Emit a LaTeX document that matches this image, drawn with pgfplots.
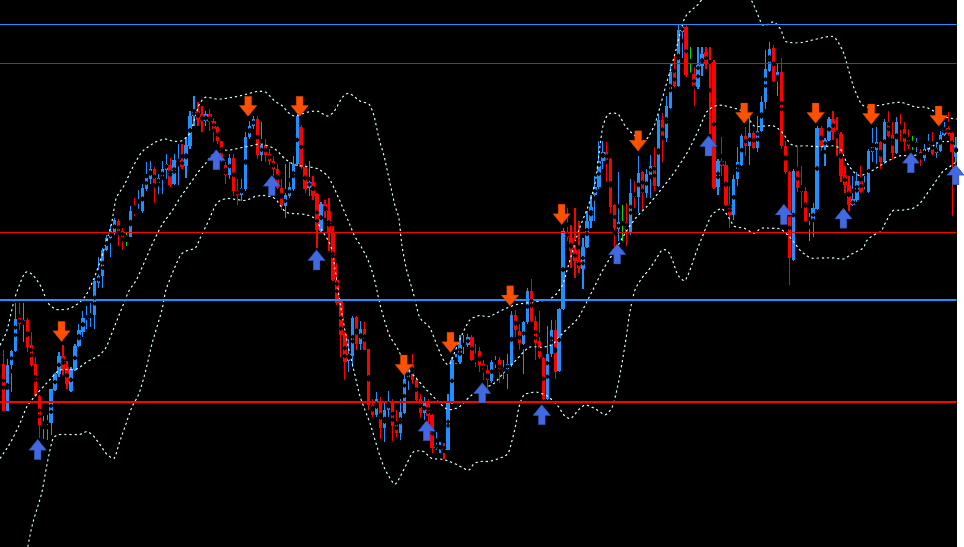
\documentclass[border=0pt]{standalone}
\usepackage{pgfplots}
\usepackage{pgfplotstable}
\pgfplotsset{compat=1.18}
\definecolor{cup}{RGB}{30,144,255}
\definecolor{cdn}{RGB}{255,0,0}
\definecolor{cdoji}{RGB}{0,220,0}
\definecolor{band}{RGB}{200,250,250}
\definecolor{arrdn}{RGB}{255,80,0}
\definecolor{arrup}{RGB}{65,105,225}

\pgfdeclareplotmark{uparr}{%
 \pgfpathmoveto{\pgfqpoint{0bp}{10bp}}%
 \pgfpathlineto{\pgfqpoint{8.5bp}{-0.5bp}}%
 \pgfpathlineto{\pgfqpoint{3.3bp}{-0.5bp}}%
 \pgfpathlineto{\pgfqpoint{3.3bp}{-10bp}}%
 \pgfpathlineto{\pgfqpoint{-3.3bp}{-10bp}}%
 \pgfpathlineto{\pgfqpoint{-3.3bp}{-0.5bp}}%
 \pgfpathlineto{\pgfqpoint{-8.5bp}{-0.5bp}}%
 \pgfpathclose
 \pgfusepathqfillstroke}
\pgfdeclareplotmark{dnarr}{%
 \pgfpathmoveto{\pgfqpoint{0bp}{-10bp}}%
 \pgfpathlineto{\pgfqpoint{8.5bp}{0.5bp}}%
 \pgfpathlineto{\pgfqpoint{3.3bp}{0.5bp}}%
 \pgfpathlineto{\pgfqpoint{3.3bp}{10bp}}%
 \pgfpathlineto{\pgfqpoint{-3.3bp}{10bp}}%
 \pgfpathlineto{\pgfqpoint{-3.3bp}{0.5bp}}%
 \pgfpathlineto{\pgfqpoint{-8.5bp}{0.5bp}}%
 \pgfpathclose
 \pgfusepathqfillstroke}

\pgfplotstableread{
i t o c h l
0 -1 367 414 353 414
1 1 414 368 362 414
2 1 368 354 353 395
3 1 354 321 305 355
4 -1 320 327 305 333
5 1 327 322 305 345
6 -1 322 350 320 355
7 -1 348 368 335 370
8 -1 367 399 360 400
9 -1 399 428 398 441
10 1 427 426 419 442
11 1 426 425 418 443
12 1 426 392 392 438
13 1 393 377 376 394
14 1 377 359 355 380
15 -1 359 372 348 378
16 -1 370 387 364 392
17 1 394 372 370 395
18 1 373 349 347 374
19 1 349 333 327 350
20 1 335 320 313 340
21 1 321 319 308 332
22 1 319 317 305 330
23 1 317 283 280 332
24 1 285 278 259 290
25 1 278 252 250 290
26 1 252 240 237 253
27 1 240 233 227 259
28 1 235 222 220 237
29 -1 223 235 221 248
30 -1 233 239 230 252
31 0 239 239 235 248
32 1 239 213 208 239
33 -1 213 214 200 218
34 1 213 212 191 215
35 1 213 189 185 215
36 1 190 179 163 192
37 1 180 170 162 185
38 -1 170 186 168 205
39 1 185 179 175 196
40 1 180 170 162 196
41 1 171 165 155 180
42 -1 166 186 159 188
43 1 185 161 155 186
44 1 163 161 145 186
45 -1 161 168 145 170
46 1 167 146 138 179
47 1 147 117 112 150
48 1 117 112 97 127
49 -1 112 121 103 127
50 -1 115 122 107 133
51 1 122 115 112 127
52 -1 115 123 110 132
53 -1 122 130 119 143
54 -1 128 142 127 145
55 -1 142 158 142 163
56 -1 166 176 163 185
57 1 176 159 155 180
58 -1 159 192 155 198
59 -1 191 197 180 207
60 1 197 189 180 203
61 1 190 138 133 192
62 1 138 127 122 140
63 1 127 120 117 130
64 -1 120 156 117 160
65 1 156 146 123 162
66 -1 146 156 140 163
67 -1 155 162 150 166
68 -1 162 170 157 177
69 -1 170 189 165 190
70 -1 189 208 180 212
71 1 208 197 165 220
72 1 198 188 163 200
73 1 190 165 157 192
74 1 165 117 115 167
75 -1 128 168 126 170
76 -1 168 190 165 195
77 1 189 183 162 198
78 -1 183 198 177 202
79 -1 196 232 195 250
80 1 233 206 204 234
81 -1 206 213 202 220
82 -1 213 235 200 253
83 -1 235 282 228 283
84 -1 282 305 265 307
85 -1 303 338 302 360
86 -1 337 365 335 383
87 1 364 357 342 375
88 1 359 320 318 370
89 -1 319 347 318 353
90 1 347 332 323 353
91 -1 332 353 325 353
92 -1 352 408 352 413
93 -1 408 418 402 420
94 1 418 402 395 420
95 -1 405 431 400 442
96 1 431 413 405 445
97 1 413 406 394 420
98 -1 405 429 402 444
99 -1 427 436 413 440
100 1 436 415 402 443
101 1 416 382 360 417
102 1 382 372 370 393
103 -1 367 383 357 387
104 -1 383 403 380 405
105 -1 402 416 397 420
106 1 416 406 400 423
107 -1 405 419 402 428
108 -1 418 451 417 457
109 1 451 449 435 453
110 1 451 450 445 457
111 -1 450 453 446 463
112 1 453 405 397 453
113 1 405 363 360 407
114 1 365 363 357 367
115 1 365 348 338 367
116 1 348 347 338 357
117 1 348 340 337 350
118 -1 340 363 338 364
119 -1 362 364 347 370
120 -1 354 368 350 375
121 -1 367 373 363 383
122 -1 373 383 368 392
123 1 384 365 363 386
124 1 366 364 359 371
125 -1 363 375 360 386
126 1 375 371 363 382
127 1 372 367 357 392
128 1 368 317 313 370
129 -1 317 333 312 340
130 -1 334 346 327 353
131 1 347 325 323 377
132 1 325 293 290 327
133 -1 293 323 281 325
134 -1 323 346 318 363
135 -1 344 360 313 362
136 -1 361 402 360 403
137 1 402 357 329 403
138 1 357 333 322 360
139 -1 333 375 322 382
140 1 374 311 310 375
141 1 311 233 230 312
142 -1 234 239 210 243
143 -1 240 253 227 270
144 -1 252 263 210 280
145 -1 262 270 223 275
146 1 271 249 240 291
147 1 249 223 213 250
148 1 223 209 197 230
149 1 197 188 177 223
150 1 188 162 142 190
151 1 162 153 142 170
152 -1 153 162 143 183
153 -1 160 209 159 215
154 -1 207 230 206 263
155 1 231 224 173 243
156 0 225 225 207 243
157 -1 224 235 205 248
158 1 235 194 180 237
159 -1 194 199 182 210
160 1 199 174 157 215
161 -1 173 195 172 212
162 1 195 175 170 200
163 1 176 167 156 200
164 -1 167 187 148 192
165 1 187 121 115 188
166 -1 121 140 114 163
167 1 139 107 97 143
168 1 109 73 63 110
169 -1 73 87 55 88
170 1 87 30 24 88
171 1 32 27 25 58
172 -1 27 76 25 78
173 0 75 75 47 76
174 -1 75 88 68 107
175 1 88 66 47 90
176 1 67 54 47 77
177 -1 52 65 47 70
178 -1 62 63 47 135
179 -1 62 189 60 190
180 1 188 162 160 197
181 -1 162 167 138 177
182 -1 166 207 162 208
183 -1 207 217 187 230
184 1 217 180 176 222
185 1 180 163 148 187
186 1 166 137 135 167
187 -1 137 147 128 157
188 1 147 134 116 166
189 -1 134 149 132 150
190 1 149 132 117 153
191 1 132 103 97 133
192 1 103 70 50 110
193 1 72 49 42 73
194 -1 48 82 45 83
195 1 82 73 63 97
196 -1 73 147 58 150
197 -1 147 173 142 175
198 -1 173 260 172 287
199 1 262 172 170 263
200 -1 171 189 148 193
201 -1 189 193 167 210
202 -1 192 223 188 224
203 0 221 221 215 243
204 1 223 210 205 239
205 1 211 129 127 212
206 -1 129 148 127 152
207 1 148 141 139 167
208 1 141 120 118 142
209 -1 120 133 112 141
210 -1 132 135 118 157
211 -1 135 177 133 183
212 -1 176 186 167 195
213 -1 186 207 177 213
214 1 207 201 177 208
215 1 202 182 173 204
216 -1 182 193 167 195
217 1 194 192 177 195
218 1 193 152 150 195
219 1 153 148 129 163
220 1 151 143 128 165
221 -1 143 163 142 170
222 1 163 123 120 165
223 -1 123 137 112 138
224 -1 136 154 123 160
225 1 154 123 118 155
226 -1 126 129 115 142
227 -1 130 143 123 152
228 -1 141 147 130 150
229 0 146 146 137 151
230 1 147 143 139 153
231 -1 153 159 150 167
232 1 159 150 145 162
233 1 151 143 135 153
234 -1 143 155 133 156
235 1 154 149 143 159
236 1 152 136 132 153
237 1 136 129 123 137
238 -1 129 135 113 137
239 -1 134 153 133 218
240 1 158 146 138 163
}\candles

\pgfplotsset{
 wick/.style n args={2}{only marks, mark=none,
   restrict expr to domain={\thisrow{t}}{#1},
   error bars/.cd, y dir=both, y explicit, error mark=none,
   error bar style={draw=#2, line width=1.2bp}},
 body/.style n args={2}{only marks, mark=none,
   restrict expr to domain={\thisrow{t}}{#1},
   error bars/.cd, y dir=both, y explicit, error mark=none,
   error bar style={draw=#2, line width=3.4bp}},
 table/wicktab/.style={x expr=3.5+4*\thisrow{i}, y expr={(\thisrow{h}+\thisrow{l})/2}, y error expr={(\thisrow{l}-\thisrow{h})/2}},
 table/bodytab/.style={x expr=3.5+4*\thisrow{i}, y expr={(\thisrow{o}+\thisrow{c})/2}, y error expr={max(abs(\thisrow{o}-\thisrow{c})/2,0.7)}},
 bandline/.style={draw=band, line width=1.1bp, dash pattern=on 2.2bp off 3bp, smooth, tension=0.4},
}

\begin{document}
\begin{tikzpicture}
\fill[black] (0,0) rectangle (964bp,551bp);
\begin{axis}[scale only axis, width=964bp, height=551bp,
  xmin=0, xmax=964, ymin=0, ymax=551, y dir=reverse,
  hide axis, clip=true]
% candles
\addplot[wick={0.5:1.5}{cup}] table[wicktab] {\candles};
\addplot[body={0.5:1.5}{cup}] table[bodytab] {\candles};
\addplot[wick={-1.5:-0.5}{cdn}] table[wicktab] {\candles};
\addplot[body={-1.5:-0.5}{cdn}] table[bodytab] {\candles};
\addplot[wick={-0.5:0.5}{cdoji}] table[wicktab] {\candles};
\addplot[body={-0.5:0.5}{cdoji}] table[bodytab] {\candles};
% bollinger bands
\addplot[bandline] coordinates {
(0,348)(7,333)(15,300)(25,275)(33,277)(42,290)(48,305)(57,312)(70,311)(80,305)(87,297)(95,280)(103,257)(112,227)(117,200)(125,187)(133,170)(143,153)(157,143)(167,140)(173,142)(183,142)(192,133)(200,107)(207,98)(220,100)(240,97)(260,92)(268,93)(277,102)(285,107)(290,113)(297,117)(310,113)(320,112)(330,117)(337,112)(345,98)(352,94)(363,102)(372,105)(377,117)(382,140)(387,157)(392,180)(398,207)(402,220)(405,247)(410,273)(417,297)(423,320)(433,330)(440,347)(447,363)(453,367)(463,343)(473,323)(483,318)(493,319)(507,312)(520,307)(533,305)(547,303)(553,302)(560,297)(567,287)(573,267)(583,233)(593,207)(600,183)(607,130)(613,115)(623,115)(630,127)(640,137)(650,142)(660,125)(670,90)(680,55)(690,18)(703,5)(712,-5)(735,-15)(750,-5)(757,0)(763,13)(768,25)(773,25)(780,22)(787,30)(792,42)(807,43)(820,40)(840,37)(850,53)(855,70)(860,87)(867,103)(873,108)(887,106)(907,103)(923,108)(933,108)(943,113)(953,118)(964,120)};
\addplot[bandline] coordinates {
(0,462)(10,447)(20,427)(27,410)(37,397)(50,383)(60,373)(77,372)(87,365)(100,358)(107,350)(115,330)(123,310)(130,293)(137,283)(143,270)(153,247)(163,227)(173,213)(183,197)(193,183)(200,173)(207,165)(213,157)(220,152)(233,151)(247,148)(253,147)(263,145)(277,150)(287,160)(297,166)(310,168)(320,170)(330,177)(337,190)(347,213)(357,237)(363,247)(370,260)(377,280)(383,307)(392,337)(400,350)(410,370)(420,382)(430,393)(437,400)(447,410)(453,413)(463,410)(473,400)(483,393)(497,387)(510,373)(520,363)(533,350)(547,350)(557,347)(563,340)(573,330)(583,320)(597,293)(607,273)(613,263)(623,247)(633,230)(643,217)(653,207)(667,190)(680,173)(693,153)(703,133)(712,113)(720,107)(727,106)(740,109)(750,113)(760,127)(770,127)(780,127)(788,133)(795,143)(800,147)(813,147)(827,148)(840,147)(847,150)(853,163)(860,173)(867,177)(877,173)(887,167)(893,163)(907,157)(920,157)(933,152)(947,143)(964,143)};
\addplot[bandline] coordinates {
(28,551)(33,527)(42,497)(47,470)(53,443)(60,438)(80,438)(87,435)(93,438)(100,447)(107,457)(115,462)(120,447)(127,427)(133,410)(140,397)(147,373)(153,347)(163,313)(167,293)(173,277)(182,257)(190,252)(197,250)(203,237)(210,223)(217,207)(222,202)(230,200)(247,202)(257,198)(267,197)(277,200)(287,213)(293,215)(307,216)(317,220)(325,233)(333,247)(337,267)(343,307)(350,345)(357,375)(363,400)(373,427)(382,457)(388,473)(398,488)(407,473)(412,463)(417,455)(427,455)(435,462)(447,463)(460,468)(472,474)(477,468)(483,465)(493,465)(503,462)(512,457)(517,440)(520,427)(523,410)(528,398)(540,395)(547,397)(553,400)(563,410)(568,418)(575,422)(583,413)(590,408)(600,412)(610,418)(617,410)(623,387)(630,347)(635,313)(640,292)(647,280)(653,273)(660,263)(667,252)(673,253)(678,263)(683,277)(690,283)(695,273)(702,253)(710,233)(717,217)(727,210)(733,217)(740,228)(750,230)(760,235)(767,230)(777,230)(787,231)(797,240)(807,253)(817,260)(827,260)(840,260)(850,261)(860,255)(870,250)(873,243)(880,237)(888,233)(893,223)(900,212)(907,212)(920,210)(927,205)(933,197)(940,187)(950,173)(957,168)(964,163)};
% horizontal levels
\addplot[draw=cup, line width=1.2bp] coordinates {(0,24.5) (964,24.5)};
\addplot[draw=cdn, line width=2bp] coordinates {(0,64) (964,64)};
\addplot[draw=cdn, line width=1.3bp] coordinates {(0,234.5) (964,234.5)};
\addplot[draw=cup, line width=2bp] coordinates {(0,302) (964,302)};
\addplot[draw=cdn, line width=2bp] coordinates {(0,405) (964,405)};
% signal arrows
\addplot[only marks, mark=dnarr, mark options={fill=arrdn, draw=arrdn!85!black, line width=0.5bp}] coordinates {
(62,334)(250,107)(302,107)(407,368)(454,345)(514,298)(566,216)(643,142)(750,114)(822,114)(878,115)(946,117)};
\addplot[only marks, mark=uparr, mark options={fill=arrup, draw=arrup!80!black, line width=0.5bp}] coordinates {
(38,453)(218,161)(274,187)(319,262)(430,434)(486,396)(546,418)(622,256)(714,147)(790,216)(850,220)(918,164)(963,176)};
\end{axis}
\end{tikzpicture}
\end{document}
